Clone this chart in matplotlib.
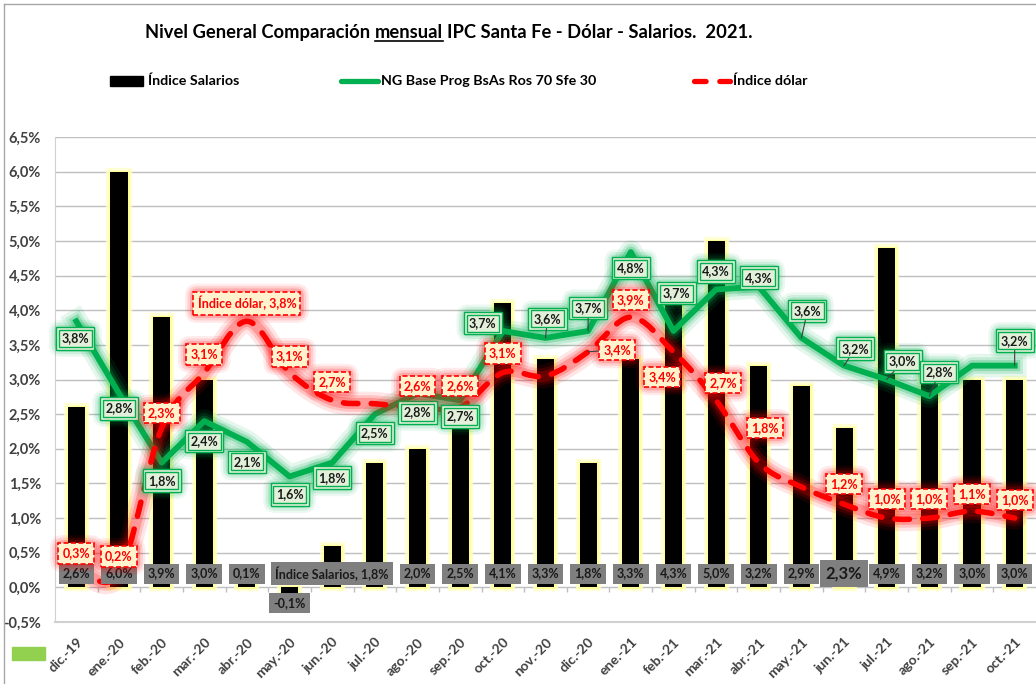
import numpy as np
import matplotlib
matplotlib.use("Agg")
import matplotlib.pyplot as plt
from matplotlib.path import Path
from matplotlib.patches import PathPatch, Rectangle
from matplotlib.lines import Line2D
import matplotlib.patheffects as pe

# ---------------- data ----------------
categories = ["dic.-19", "ene.-20", "feb.-20", "mar.-20", "abr.-20", "may.-20", "jun.-20",
              "jul.-20", "ago.-20", "sep.-20", "oct.-20", "nov.-20", "dic.-20", "ene.-21",
              "feb.-21", "mar.-21", "abr.-21", "may.-21", "jun.-21", "jul.-21", "ago.-21",
              "sep.-21", "oct.-21"]
salarios = [2.6, 6.0, 3.9, 3.0, 0.1, -0.1, 0.6, 1.8, 2.0, 2.5, 4.1, 3.3, 1.8, 3.3,
            4.34, 5.0, 3.2, 2.9, 2.3, 4.9, 3.2, 3.0, 3.0]
ng = [3.84, 2.8, 1.8, 2.4, 2.1, 1.6, 1.8, 2.5, 2.8, 2.7, 3.7, 3.6, 3.7, 4.84,
      3.7, 4.3, 4.34, 3.6, 3.2, 3.0, 2.76, 3.2, 3.2]
dolar = [0.3, 0.2, 2.3, 3.1, 3.84, 3.1, 2.7, 2.65, 2.6, 2.6, 3.1, 3.05, 3.4, 3.9,
         3.4, 2.7, 1.8, 1.45, 1.2, 1.0, 1.0, 1.1, 1.0]
yticks = [-0.5, 0.0, 0.5, 1.0, 1.5, 2.0, 2.5, 3.0, 3.5, 4.0, 4.5, 5.0, 5.5, 6.0, 6.5]

name_sal = "Índice Salarios"
name_ng = "NG Base Prog BsAs Ros 70 Sfe 30"
name_dol = "Índice dólar"
title_parts = ["Nivel General Comparación", "mensual", "IPC Santa Fe - Dólar - Salarios.  2021."]

# ---------------- label placement (pixels; None = no label) ----------------
ng_off = [(-1, -17), (0, -15), (0, -18), (0, -20), (0, -20), (0, -18), (0, -15), (0, -19),
          (0, -19), (0, -16), (-20, 8), (2, 19), (0, 23), (0, -16), (3, 38), (0, 18),
          (0, 9), (6, 27), (11, 17), (16, 18), (10, 24), None, (0, 25)]
ng_leader = [False] * 11 + [True, True, False, False, False, False, True, True, True, True, False, True]
dol_off = [(0, 13), (0, 17), (0, 15), (0, 18), (0, 18), (0, 16), (0, 18), None, (0, 21),
           (0, 21), (0, 19), None, (29, 2), (0, 17), (-11, -25), (7, 17), (6, 35), None,
           (0, 20), (0, 19), (0, 19), (0, 17), (0, 18)]
sal_hidden = [6]
sal_named = 7
dol_named = 4

W, H = 1036, 684
fig = plt.figure(figsize=(W / 100, H / 100), dpi=100)
fig.patch.set_facecolor("white")
FONT = "Lato"
plt.rcParams["font.family"] = [FONT, "DejaVu Sans"]

ax = fig.add_axes([55 / W, 1 - 622 / H, (1036 - 55) / W, (622 - 137) / H])
x = np.arange(len(categories))
ax.set_xlim(-0.5, len(categories) - 0.5)
ax.set_ylim(-0.5, 6.5)

GREEN = "#00B050"
RED = "#FF0000"

def fmt(v):
    return f"{v:.1f}".replace(".", ",") + "%"

# grid
ax.set_yticks(yticks)
ax.set_yticklabels([fmt(v) for v in yticks], fontsize=10.5, fontweight="bold", color="#404040")
ax.yaxis.grid(True, color="#BFBFBF", lw=1.0)
ax.set_axisbelow(True)
ax.tick_params(axis="y", length=0, pad=10)
for s in ["top", "right"]:
    ax.spines[s].set_visible(False)
ax.spines["left"].set_color("#D0D0D0")
ax.spines["bottom"].set_color("#D0D0D0")
ax.spines["bottom"].set_linewidth(1.5)

ax.set_xticks(x)
ax.set_xticklabels(categories, rotation=45, ha="right", va="top", rotation_mode="anchor",
                   fontsize=10, fontweight="bold", color="#404040")
ax.tick_params(axis="x", length=0, pad=10)
# small category ticks on zero line
ax.vlines(x[:-1] + 0.5, -0.07, 0, color="#BFBFBF", lw=1, zorder=1)

# bars with pale yellow glow
bars = ax.bar(x, salarios, width=0.4, color="black", lw=0, zorder=2)
for b in bars:
    b.set_path_effects([pe.Stroke(linewidth=6, foreground="#FFFFCC", alpha=0.8),
                        pe.Stroke(linewidth=2.5, foreground="#FFFF99"), pe.Normal()])

# green line with glow
ax.plot(x, ng, color=GREEN, lw=4.2, zorder=3, solid_joinstyle="round",
        path_effects=[pe.Stroke(linewidth=17, foreground=GREEN, alpha=0.10),
                      pe.Stroke(linewidth=12, foreground=GREEN, alpha=0.15),
                      pe.Stroke(linewidth=8, foreground=GREEN, alpha=0.25), pe.Normal()])

# red smoothed dashed line (Bezier through points)
P = np.column_stack([x, dolar]).astype(float)
verts = [P[0]]
codes = [Path.MOVETO]
n = len(P)
for i in range(n - 1):
    p0 = P[i - 1] if i > 0 else P[i]
    p1, p2 = P[i], P[i + 1]
    p3 = P[i + 2] if i + 2 < n else P[i + 1]
    c1 = p1 + (p2 - p0) / 6.0
    c2 = p2 - (p3 - p1) / 6.0
    verts += [c1, c2, p2]
    codes += [Path.CURVE4] * 3
path = Path(verts, codes)
for lw, a in [(17, 0.10), (12, 0.15), (8, 0.22)]:
    ax.add_patch(PathPatch(path, fc="none", ec=RED, lw=lw, alpha=a, zorder=4, capstyle="round"))
ax.add_patch(PathPatch(path, fc="none", ec=RED, lw=4.0, zorder=4.1, capstyle="round",
                       linestyle=(0, (2.6, 2.4))))

# ---------------- labels ----------------
def label(xv, yv, s, dx, dy, kind, z, fs=9, leader=False):
    common = dict(xy=(xv, yv), xytext=(dx, dy), textcoords="offset pixels", ha="center",
                  va="center", fontsize=fs, fontweight="bold", annotation_clip=False)
    if kind == "gray":
        ax.annotate(s, color="#1A1A1A", zorder=z,
                    bbox=dict(boxstyle="square,pad=0.32", fc="#7F7F7F", ec="none"), **common)
        return
    gcol = GREEN if kind == "green" else RED
    for pad, a in [(1.0, 0.08), (0.8, 0.12), (0.6, 0.18)]:
        ax.annotate(s, color="none", zorder=z,
                    bbox=dict(boxstyle=f"round,pad={pad}", fc=gcol, ec="none", alpha=a), **common)
    arrow = dict(arrowstyle="-", color="#404040", lw=0.8, shrinkA=0, shrinkB=0) if leader else None
    if kind == "green":
        ax.annotate(s, color="none", zorder=z + 0.1,
                    bbox=dict(boxstyle="square,pad=0.42", fc="#E2F0D9", ec=GREEN, lw=1.0), **common)
        ax.annotate(s, color="#1A1A1A", zorder=z + 0.2, arrowprops=arrow,
                    bbox=dict(boxstyle="square,pad=0.2", fc="#E2F0D9", ec=GREEN, lw=1.0), **common)
    else:
        ax.annotate(s, color=RED, zorder=z + 0.2, arrowprops=arrow,
                    bbox=dict(boxstyle="square,pad=0.33", fc="#FFF2CC", ec=RED, lw=1.2,
                              ls=(0, (3, 1.5))), **common)

# salary labels
for i, v in enumerate(salarios):
    if i in sal_hidden:
        continue
    s = fmt(v)
    dx = 0
    if i == sal_named:
        s = f"{name_sal}, {s}"
        dx = -43
    yv = -0.22 if v < 0 else 0.2
    fs = 12 if categories[i] == "jun.-21" else 9
    label(i, yv, s, dx, 0, "gray", 5, fs=fs)

for i, v in enumerate(ng):
    if ng_off[i] is None:
        continue
    label(i, v, fmt(v), ng_off[i][0], ng_off[i][1], "green", 6, leader=ng_leader[i])

for i, v in enumerate(dolar):
    if dol_off[i] is None:
        continue
    s = fmt(v)
    if i == dol_named:
        s = f"{name_dol}, {s}"
    label(i, v, s, dol_off[i][0], dol_off[i][1], "red", 7, leader=(i == 12))

# ---------------- title (with underlined word) ----------------
renderer = fig.canvas.get_renderer()
tkw = dict(fontsize=13.2, fontweight="bold", color="black", va="baseline", ha="left")
def text_w(s):
    t = fig.text(0, 0, s, **tkw)
    w = t.get_window_extent(renderer).width
    t.remove()
    return w
space = text_w("a a") - text_w("aa")
tx = 145.0
ty = 1 - 38 / H
for k, s in enumerate(title_parts):
    t = fig.text(tx / W, ty, s, **tkw)
    bb = t.get_window_extent(renderer)
    if k == 1:
        fig.add_artist(Line2D([bb.x0 / W, bb.x1 / W], [ty - 3 / H] * 2, color="black", lw=1.2))
    tx = bb.x1 + space

# ---------------- legend ----------------
ly = 1 - 81 / H
lkw = dict(fontsize=10.3, fontweight="bold", color="black", va="center", ha="left")
fig.add_artist(Rectangle((110 / W, ly - 5 / H), 33 / W, 10 / H, color="black"))
fig.text(148 / W, ly, name_sal, **lkw)
fig.add_artist(Line2D([341 / W, 378 / W], [ly, ly], color=GREEN, lw=3.8, solid_capstyle="round"))
fig.text(381 / W, ly, name_ng, **lkw)
fig.add_artist(Line2D([694 / W, 730 / W], [ly, ly], color=RED, lw=3.8, dash_capstyle="round",
                      linestyle=(0, (2.2, 2.6))))
fig.text(733 / W, ly, name_dol, **lkw)

# frame & stray legend swatch
fig.add_artist(Line2D([4 / W, 1], [1 - 4 / H] * 2, color="#A6A6A6", lw=1))
fig.add_artist(Line2D([4 / W] * 2, [0, 1 - 4 / H], color="#A6A6A6", lw=1))
fig.add_artist(Rectangle((12 / W, 1 - 660 / H), 33 / W, 13 / H, color="#92D050"))

fig.savefig("out.png", dpi=100, facecolor="white")
